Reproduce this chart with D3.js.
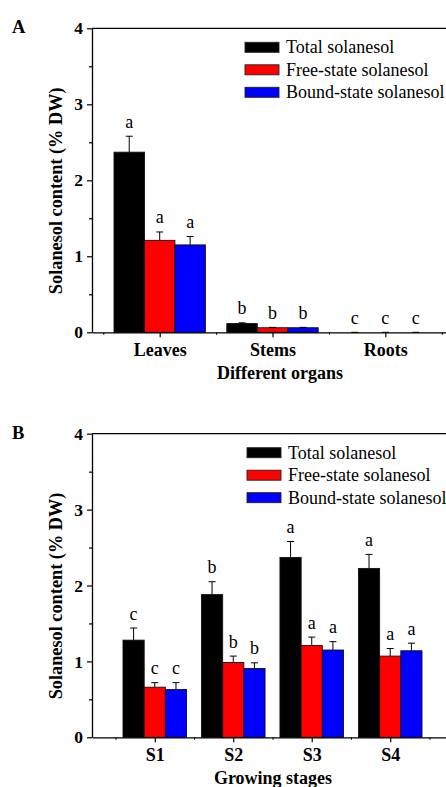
<!DOCTYPE html>
<html>
<head>
<meta charset="utf-8">
<script src="https://cdn.jsdelivr.net/npm/d3@7"></script>
<style>
  body { margin: 0; background: #fff; }
  svg { display: block; }
  text { font-family: "Liberation Serif", "Times New Roman", serif; fill: #000; }
</style>
</head>
<body>
<div class="chart"></div>
<script>
// panel A: different organs
const organs = ["Leaves", "Stems", "Roots"]
const organTotal = [2.37, 0.115, 0]
const organTotalErr = [0.21, 0.01, 0]
const organFree = [1.21, 0.06, 0]
const organFreeErr = [0.11, 0.005, 0]
const organBound = [1.15, 0.06, 0]
const organBoundErr = [0.11, 0.005, 0]
const organLetters = [["a", "b", "c"], ["a", "b", "c"], ["a", "b", "c"]]

// panel B: growing stages
const stages = ["S1", "S2", "S3", "S4"]
const stageTotal = [1.28, 1.88, 2.37, 2.225]
const stageTotalErr = [0.16, 0.17, 0.21, 0.185]
const stageFree = [0.66, 0.985, 1.21, 1.07]
const stageFreeErr = [0.06, 0.085, 0.11, 0.10]
const stageBound = [0.63, 0.906, 1.15, 1.14]
const stageBoundErr = [0.09, 0.075, 0.11, 0.10]
const stageLetters = [["c", "b", "a", "a"], ["c", "b", "a", "a"], ["c", "b", "a", "a"]]

const seriesNames = ["Total solanesol", "Free-state solanesol", "Bound-state solanesol"]
const seriesColors = ["#000000", "#ff0000", "#0000ff"]
const yTicks = [0, 1, 2, 3, 4]
const yMinor = [0.5, 1.5, 2.5, 3.5]

const width = 446
const height = 787

const svg = d3.select(".chart")
    .append("svg")
    .attr("width", width)
    .attr("height", height)

function drawPanel(o) {
    const g = svg.append("g")
    const x = d3.scaleLinear().domain(o.xDomain).range([92, 453])
    const y = d3.scaleLinear().domain([0, 4]).range([o.bottom, o.top])
    const step = x(2) - x(1)
    const barW = step * 0.81 / 3
    const sets = [[o.total, o.totalErr], [o.free, o.freeErr], [o.bound, o.boundErr]]

    // bars, error bars, letters
    sets.forEach(([vals, errs], s) => {
        const cx = (d, i) => x(i + 1) + (s - 1) * barW
        const sg = g.append("g")
        sg.selectAll("rect")
            .data(vals)
            .enter().append("rect")
            .attr("x", (d, i) => cx(d, i) - barW / 2)
            .attr("y", d => y(d))
            .attr("width", barW)
            .attr("height", d => y(0) - y(d))
            .attr("fill", seriesColors[s])
            .attr("stroke", "#111")
            .attr("stroke-width", 0.9)
        sg.selectAll("path.err")
            .data(vals)
            .enter().append("path")
            .attr("class", "err")
            .attr("d", (d, i) => {
                const c = cx(d, i), t = y(d + errs[i])
                return `M${c},${y(d)}V${t}M${c - 3.5},${t}H${c + 3.5}`
            })
            .attr("stroke", "#000")
            .attr("stroke-width", 1)
            .attr("fill", "none")
        sg.selectAll("text")
            .data(vals)
            .enter().append("text")
            .attr("x", (d, i) => cx(d, i))
            .attr("y", (d, i) => y(d + errs[i]) - 8.5)
            .attr("text-anchor", "middle")
            .style("font-size", "18px")
            .text((d, i) => o.letters[s][i])
    })

    // frame top
    g.append("path")
        .attr("d", `M${x.range()[0]},${o.top}H${x.range()[1]}V${o.bottom}`)
        .attr("stroke", "#000")
        .attr("stroke-width", 1.3)
        .attr("fill", "none")

    // y axis
    g.append("g")
        .attr("transform", `translate(92,0)`)
        .call(d3.axisLeft(y).tickValues(yMinor).tickSize(3).tickFormat(""))
        .call(a => a.select(".domain").remove())
        .call(a => a.selectAll("line").attr("stroke-width", 1.2))
    g.append("g")
        .attr("transform", `translate(92,0)`)
        .call(d3.axisLeft(y).tickValues(yTicks).tickSize(5).tickSizeOuter(0).tickPadding(4).tickFormat(d3.format("d")))
        .call(a => a.select(".domain").attr("stroke-width", 1.3))
        .call(a => a.selectAll("line").attr("stroke-width", 1.2))
        .call(a => a.selectAll("text")
            .style("font-family", "'Liberation Serif', 'Times New Roman', serif")
            .style("font-size", "17.5px")
            .style("font-weight", "bold"))

    // x axis
    const n = o.cats.length
    const minor = d3.range(0, n + 1).map(i => i + 0.5).filter(v => v > o.xDomain[0] && v < o.xDomain[1])
    g.append("g")
        .attr("transform", `translate(0,${o.bottom})`)
        .call(d3.axisBottom(x).tickValues(minor).tickSize(2.5).tickFormat(""))
        .call(a => a.select(".domain").remove())
        .call(a => a.selectAll("line").attr("stroke-width", 1))
    g.append("g")
        .attr("transform", `translate(0,${o.bottom})`)
        .call(d3.axisBottom(x).tickValues(d3.range(1, n + 1)).tickSize(5).tickSizeOuter(0).tickFormat(i => o.cats[i - 1]))
        .call(a => a.select(".domain").attr("stroke-width", 1.3))
        .call(a => a.selectAll("line").attr("stroke-width", 1.2))
        .call(a => a.selectAll("text")
            .attr("y", 24)
            .attr("dy", null)
            .style("font-family", "'Liberation Serif', 'Times New Roman', serif")
            .style("font-size", "18px")
            .style("font-weight", "bold"))

    // axis titles
    g.append("text")
        .attr("x", o.xTitleX)
        .attr("y", o.bottom + 47)
        .attr("text-anchor", "middle")
        .style("font-size", "18px")
        .style("font-weight", "bold")
        .text(o.xTitle)

    g.append("text")
        .attr("transform", `translate(61.5,${(o.top + o.bottom) / 2 + 10.5}) rotate(-90)`)
        .attr("text-anchor", "middle")
        .style("font-size", "18.3px")
        .style("font-weight", "bold")
        .text("Solanesol content (% DW)")

    // panel letter
    g.append("text")
        .attr("x", 12)
        .attr("y", o.top + 5)
        .style("font-size", "18.5px")
        .style("font-weight", "bold")
        .text(o.label)

    // legend
    const lg = g.append("g")
        .attr("transform", `translate(${o.legendX},${o.top + 19})`)
    seriesNames.forEach((name, i) => {
        lg.append("rect")
            .attr("x", 0)
            .attr("y", i * 22.5 - 5)
            .attr("width", 34)
            .attr("height", 10)
            .attr("fill", seriesColors[i])
            .attr("stroke", "#222")
            .attr("stroke-width", 0.9)
        lg.append("text")
            .attr("x", 41)
            .attr("y", i * 22.5 + 6)
            .style("font-size", "18px")
            .text(name)
    })
}

drawPanel({
    label: "A", cats: organs, xDomain: [0.4, 3.6], top: 28.3, bottom: 332.3,
    total: organTotal, totalErr: organTotalErr,
    free: organFree, freeErr: organFreeErr,
    bound: organBound, boundErr: organBoundErr,
    letters: organLetters,
    xTitle: "Different organs", xTitleX: 280, legendX: 245
})

drawPanel({
    label: "B", cats: stages, xDomain: [0.2, 4.8], top: 433.7, bottom: 737.3,
    total: stageTotal, totalErr: stageTotalErr,
    free: stageFree, freeErr: stageFreeErr,
    bound: stageBound, boundErr: stageBoundErr,
    letters: stageLetters,
    xTitle: "Growing stages", xTitleX: 273, legendX: 247
})
</script>
</body>
</html>
